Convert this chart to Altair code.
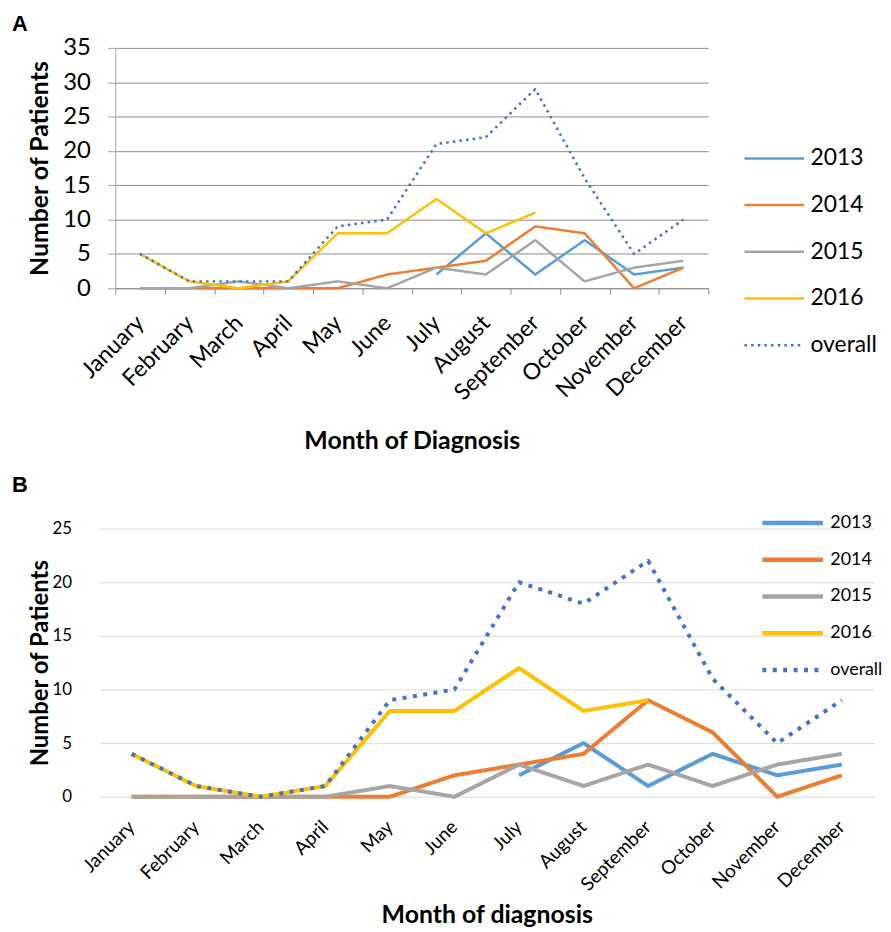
import altair as alt
import pandas as pd

months = ["January", "February", "March", "April", "May", "June", "July",
          "August", "September", "October", "November", "December"]
series = ["2013", "2014", "2015", "2016", "overall"]
colors = ["#5B9BD5", "#ED7D31", "#A5A5A5", "#FFC000", "#4472C4"]

# Panel A values
a_2013 = [None, None, None, None, None, None, 2, 8, 2, 7, 2, 3]
a_2014 = [0, 0, 0, 0, 0, 2, 3, 4, 9, 8, 0, 3]
a_2015 = [0, 0, 1, 0, 1, 0, 3, 2, 7, 1, 3, 4]
a_2016 = [5, 1, 0, 1, 8, 8, 13, 8, 11, None, None, None]
a_overall = [5, 1, 1, 1, 9, 10, 21, 22, 29, 16, 5, 10]

# Panel B values
b_2013 = [None, None, None, None, None, None, 2, 5, 1, 4, 2, 3]
b_2014 = [0, 0, 0, 0, 0, 2, 3, 4, 9, 6, 0, 2]
b_2015 = [0, 0, 0, 0, 1, 0, 3, 1, 3, 1, 3, 4]
b_2016 = [4, 1, 0, 1, 8, 8, 12, 8, 9, None, None, None]
b_overall = [4, 1, 0, 1, 9, 10, 20, 18, 22, 11, 5, 9]


def long_df(lists):
    rows = []
    for s, vals in zip(series, lists):
        for i, (m, v) in enumerate(zip(months, vals)):
            if v is not None:
                rows.append({"month": m, "mi": i, "series": s, "value": v})
    return pd.DataFrame(rows)


dfA = long_df([a_2013, a_2014, a_2015, a_2016, a_overall])
dfB = long_df([b_2013, b_2014, b_2015, b_2016, b_overall])

FONT = "Lato"


def panel(df, letter, title_x, ymax, width, height, xrange, sw, dash, gridc,
          xaxis, yaxis, legend, title_dx, title_offset):
    legend_obj = alt.Legend(**legend)
    return alt.Chart(df).mark_line(strokeWidth=sw, strokeJoin="round").encode(
        x=alt.X("month:N", sort=months,
                scale=alt.Scale(type="band", paddingInner=0, paddingOuter=0,
                                range=xrange),
                axis=alt.Axis(title=title_x, **xaxis)),
        y=alt.Y("value:Q", scale=alt.Scale(domain=[0, ymax], nice=False),
                axis=alt.Axis(title="Number of Patients",
                              values=list(range(0, ymax + 1, 5)),
                              gridColor=gridc, **yaxis)),
        color=alt.Color("series:N", scale=alt.Scale(domain=series, range=colors),
                        legend=legend_obj),
        strokeDash=alt.StrokeDash("series:N",
                                  scale=alt.Scale(domain=series,
                                                  range=[[1, 0]] * 4 + [dash]),
                                  legend=legend_obj),
        order=alt.Order("mi:Q"),
    ).properties(
        width=width, height=height,
        title=alt.TitleParams(letter, anchor="start", frame="group", dx=title_dx,
                              font="Liberation Sans", fontSize=22,
                              fontWeight="bold", color="black",
                              offset=title_offset),
    )


chartA = panel(
    dfA, "A", "Month of Diagnosis", 35, 613, 242, [16, 613], 2.5, [2.5, 4.2],
    "#8C8C8C",
    xaxis=dict(labelAngle=-45, labelAlign="right", labelBaseline="middle",
               labelFont=FONT, labelFontSize=23, labelColor="black",
               labelPadding=25, tickBand="extent", tickSize=6,
               tickColor="#8C8C8C", domainColor="#8C8C8C", grid=False,
               titleFont=FONT, titleFontSize=25, titleFontWeight="bold",
               titleColor="black", titlePadding=24),
    yaxis=dict(offset=-16, labelFont=FONT, labelFontSize=24, labelColor="black",
               labelPadding=17, tickSize=8, tickColor="#A6A6A6",
               domainColor="#A6A6A6", titleFont=FONT, titleFontSize=25,
               titleFontWeight="bold", titleColor="black", titlePadding=10),
    legend=dict(orient="none", legendX=648, legendY=88, title=None,
                symbolType="stroke", symbolSize=3600, symbolStrokeWidth=2.5,
                labelFont=FONT, labelFontSize=23, labelColor="black",
                labelOffset=5, rowPadding=0, clipHeight=46.6),
    title_dx=-88, title_offset=0,
)

chartB = panel(
    dfB, "B", "Month of diagnosis", 25, 780, 270, [0, 780], 4, [4, 6.5],
    "#D9D9D9",
    xaxis=dict(labelAngle=-45, labelAlign="right", labelBaseline="middle",
               labelFont=FONT, labelFontSize=19, labelColor="black",
               labelPadding=27, ticks=False, domain=False, grid=False,
               titleFont=FONT, titleFontSize=25, titleFontWeight="bold",
               titleColor="black", titlePadding=8),
    yaxis=dict(labelFont=FONT, labelFontSize=17, labelColor="black",
               labelPadding=28, ticks=False, domain=False,
               titleFont=FONT, titleFontSize=24, titleFontWeight="bold",
               titleColor="black", titlePadding=0),
    legend=dict(orient="none", legendX=665, legendY=-24, title=None,
                symbolType="stroke", symbolSize=3721, symbolStrokeWidth=4.5,
                labelFont=FONT, labelFontSize=18, labelColor="black",
                labelOffset=5, rowPadding=0, clipHeight=36.7),
    title_dx=-88, title_offset=8,
)

chart = alt.vconcat(chartA, chartB, spacing=20).resolve_scale(
    color="independent", strokeDash="independent"
).resolve_legend(
    color="independent", strokeDash="independent"
).properties(
    padding={"left": 4, "top": 2, "right": 0, "bottom": 0}
).configure_view(stroke=None).configure_axis(gridWidth=1)

chart.save("out.html", embed_options={"renderer": "svg", "actions": False})
